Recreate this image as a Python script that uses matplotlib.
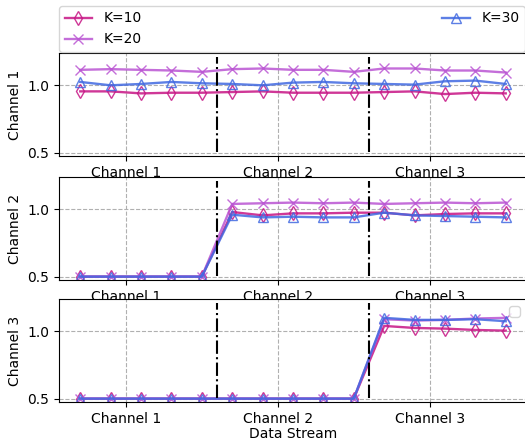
import matplotlib
matplotlib.use("Agg")
import matplotlib.pyplot as plt
import numpy as np

x = np.arange(15)
tick_pos = [1.5, 6.5, 11.5]
tick_labels = ["Channel 1", "Channel 2", "Channel 3"]
boundaries = [4.5, 9.5]
labels = ["K=10", "K=20", "K=30"]
colors = ["#C71585", "#BA55D3", "#4169E1"]
markers = ["d", "x", "^"]
ylabels = ["Channel 1", "Channel 2", "Channel 3"]

ch1_k10 = [0.955, 0.955, 0.94, 0.945, 0.945, 0.95, 0.955, 0.945, 0.945, 0.945, 0.95, 0.955, 0.935, 0.945, 0.94]
ch1_k20 = [1.115, 1.12, 1.115, 1.11, 1.10, 1.12, 1.125, 1.115, 1.115, 1.10, 1.125, 1.125, 1.11, 1.11, 1.095]
ch1_k30 = [1.025, 1.0, 1.01, 1.025, 1.015, 1.01, 1.0, 1.02, 1.025, 1.015, 1.01, 1.005, 1.03, 1.035, 1.01]

ch2_k10 = [0.5, 0.5, 0.5, 0.5, 0.5, 0.98, 0.955, 0.97, 0.97, 0.975, 0.975, 0.955, 0.965, 0.97, 0.97]
ch2_k20 = [0.5, 0.5, 0.5, 0.5, 0.5, 1.04, 1.045, 1.05, 1.045, 1.05, 1.04, 1.045, 1.05, 1.045, 1.05]
ch2_k30 = [0.5, 0.5, 0.5, 0.5, 0.5, 0.96, 0.94, 0.945, 0.94, 0.94, 0.975, 0.955, 0.95, 0.945, 0.94]

ch3_k10 = [0.5] * 10 + [1.04, 1.025, 1.02, 1.01, 1.005]
ch3_k20 = [0.5] * 10 + [1.09, 1.08, 1.085, 1.095, 1.10]
ch3_k30 = [0.5] * 10 + [1.10, 1.085, 1.085, 1.09, 1.075]

data = [
    [ch1_k10, ch1_k20, ch1_k30],
    [ch2_k10, ch2_k20, ch2_k30],
    [ch3_k10, ch3_k20, ch3_k30],
]

W, H = 525, 440
fig = plt.figure(figsize=(W / 100, H / 100), dpi=100)
left, right = 59, 527
tops = [53, 177, 299]
height = 103
axes = []
for t in tops:
    ax = fig.add_axes([left / W, 1 - (t + height) / H, (right - left) / W, height / H])
    axes.append(ax)

handles = []
for i, ax in enumerate(axes):
    for j in range(3):
        h, = ax.plot(x, data[i][j], color=colors[j], marker=markers[j],
                     markerfacecolor="none", markersize=7, linewidth=1.7,
                     alpha=0.85, label=labels[j])
        if i == 0:
            handles.append(h)
    for b in boundaries:
        ax.axvline(b, ymin=0.04, ymax=0.96, color="black", linestyle="-.", linewidth=1.5)
    ax.set_xlim(-0.7, 14.7)
    ax.set_ylim(0.475, 1.24)
    ax.set_yticks([0.5, 1.0])
    ax.set_xticks(tick_pos)
    ax.set_xticklabels(tick_labels)
    ax.grid(True, linestyle="--", color="#b0b0b0", linewidth=0.8)
    ax.set_ylabel(ylabels[i])

axes[2].set_xlabel("Data Stream", labelpad=1)
axes[2].legend(handles=[], loc="upper right")

fig.legend(handles=handles, labels=labels, ncol=2, mode="expand",
           loc="lower left", bbox_to_anchor=(left / W, 1 - 52 / H, (525 - left) / W, 44 / H),
           borderaxespad=0)

fig.savefig("out.png", dpi=100)
